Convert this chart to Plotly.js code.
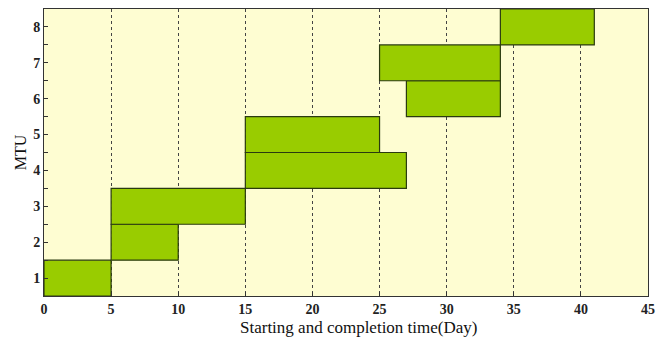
<!DOCTYPE html>
<html>
<head>
<meta charset="utf-8">
<script src="https://cdn.plot.ly/plotly-3.0.1.min.js"></script>
<style>html,body{margin:0;padding:0;background:#fff;}#chart{width:659px;height:341px;}</style>
</head>
<body>
<div id="chart"></div>
<script>
const mtus = [1, 2, 3, 4, 5, 6, 7, 8];
const startDays = [0, 5, 5, 15, 15, 27, 25, 34];
const endDays = [5, 10, 15, 27, 25, 34, 34, 41];
const xTicks = [0, 5, 10, 15, 20, 25, 30, 35, 40, 45];

const trace = {
  type: 'bar',
  orientation: 'h',
  y: mtus,
  base: startDays,
  x: endDays.map((e, i) => e - startDays[i]),
  width: 1,
  marker: {color: '#99cc00', line: {color: '#2a3a10', width: 1.2}},
  hoverinfo: 'skip'
};

const serif = 'Liberation Serif, Times New Roman, serif';
const layout = {
  width: 659, height: 341,
  margin: {l: 44, r: 11, t: 9, b: 45},
  paper_bgcolor: '#ffffff',
  plot_bgcolor: '#fefdd2',
  showlegend: false,
  bargap: 0,
  xaxis: {
    range: [0, 45],
    tickvals: xTicks,
    ticks: 'inside', ticklen: 4, tickcolor: '#333',
    showgrid: true, gridcolor: '#444', griddash: 'dot', gridwidth: 1,
    zeroline: false,
    showline: true, linecolor: '#333', linewidth: 1, mirror: true,
    tickfont: {family: serif, size: 14, color: '#222', weight: 'bold'}
  },
  yaxis: {
    range: [0.5, 8.5],
    tickvals: mtus,
    ticks: 'inside', ticklen: 0,
    minor: {dtick: 0.5, tick0: 0.5, ticks: 'inside', ticklen: 4, tickcolor: '#333'},
    showgrid: false, zeroline: false,
    showline: true, linecolor: '#333', linewidth: 1, mirror: true,
    tickfont: {family: serif, size: 14, color: '#222', weight: 'bold'},
    title: {text: 'MTU', font: {family: serif, size: 16, color: '#111'}, standoff: 2}
  },
  annotations: [{
    text: 'Starting and completion time(Day)',
    xref: 'paper', yref: 'paper', x: 0.52, y: -0.068,
    xanchor: 'center', yanchor: 'top', showarrow: false,
    font: {family: serif, size: 17, color: '#111'}
  }]
};

Plotly.newPlot('chart', [trace], layout, {displayModeBar: false, staticPlot: true});
</script>
</body>
</html>
